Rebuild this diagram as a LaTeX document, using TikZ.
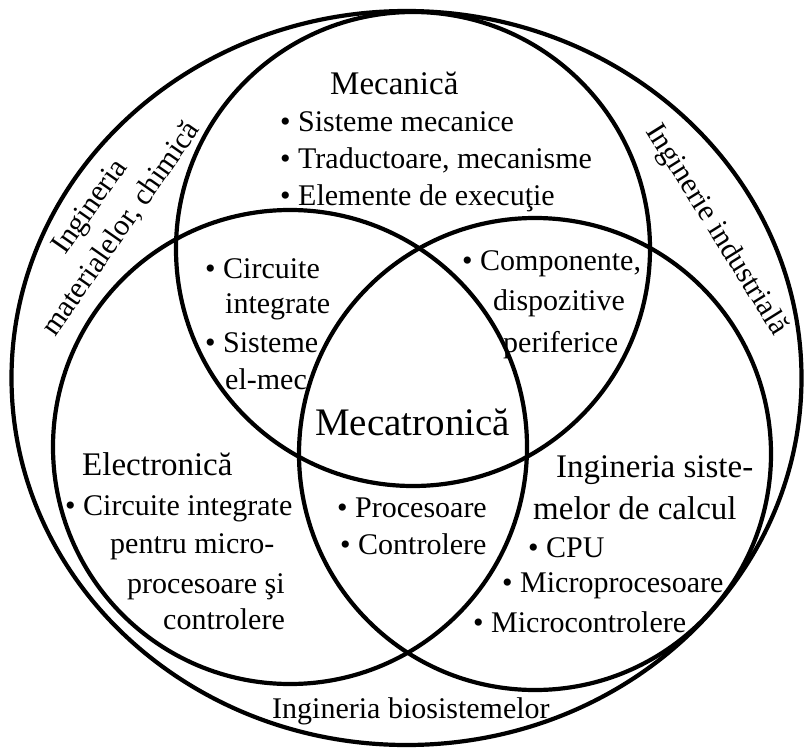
\documentclass[tikz,border=0pt]{standalone}
\usepackage{fontspec}
\setmainfont{Liberation Serif}
\usepackage{tikz}

\begin{document}
\begin{tikzpicture}[x=1pt, y=-1pt,
    ring/.style={line width=4.2pt},
    txt/.style={anchor=base west, inner sep=0pt, font=\fontsize{30}{36}\selectfont},
    head/.style={anchor=base west, inner sep=0pt, font=\fontsize{33}{38}\selectfont},
    slant/.style={inner sep=0pt, align=center, font=\fontsize{30}{38}\selectfont}]
    \useasboundingbox (0, 0) rectangle (806, 754);

    \draw[ring] (406.5, 378) ellipse (395 and 367);
    \draw[ring] (413, 249) circle (237);
    \draw[ring] (290, 447) circle (237);
    \draw[ring] (535, 454) circle (236);

    \node[head] (mech) at (330, 95) {Mecanică};
    \node[txt] (mechA) at (280, 132) {\textbullet\ Sisteme mecanice};
    \node[txt] (mechB) at (280, 169) {\textbullet\ Traductoare, mecanisme};
    \node[txt] (mechC) at (280, 206) {\textbullet\ Elemente de execuţie};

    \node[txt] (meelA) at (205, 278) {\textbullet\ Circuite};
    \node[txt] (meelB) at (225, 313) {integrate};
    \node[txt] (meelC) at (205, 352) {\textbullet\ Sisteme};
    \node[txt] (meelD) at (225, 389) {el-mec};

    \node[txt] (mecoA) at (462, 270) {\textbullet\ Componente,};
    \node[txt] (mecoB) at (493, 310) {dispozitive};
    \node[txt] (mecoC) at (503, 352) {periferice};

    \node[anchor=base west, inner sep=0pt, font=\fontsize{39}{44}\selectfont] (mtron) at (315, 435) {Mecatronică};

    \node[head] (elec) at (82, 475) {Electronică};
    \node[txt] (elecA) at (65, 515) {\textbullet\ Circuite integrate};
    \node[txt] (elecB) at (110, 553) {pentru micro-};
    \node[txt] (elecC) at (127, 593) {procesoare şi};
    \node[txt] (elecD) at (163, 629) {controlere};

    \node[txt] (elcoA) at (337, 517) {\textbullet\ Procesoare};
    \node[txt] (elcoB) at (340, 554) {\textbullet\ Controlere};

    \node[head] (comp) at (556, 477) {Ingineria siste-};
    \node[head] (compB) at (533, 519) {melor de calcul};
    \node[txt] (compC) at (528, 557) {\textbullet\ CPU};
    \node[txt] (compD) at (502, 592) {\textbullet\ Microprocesoare};
    \node[txt] (compE) at (473, 632) {\textbullet\ Microcontrolere};

    \node[txt] (bio) at (272, 718) {Ingineria biosistemelor};
    \node[slant, rotate=55] (mat) at (106, 218) {Ingineria\\materialelor, chimică};
    \node[slant, rotate=-58] (ind) at (716, 230) {Inginerie industrială};
\end{tikzpicture}
\end{document}
